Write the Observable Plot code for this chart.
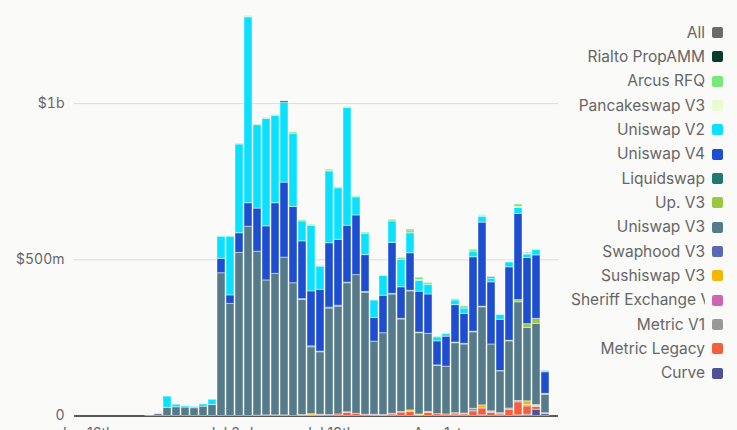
<!DOCTYPE html>
<html><head><meta charset="utf-8">
<script src="https://cdn.jsdelivr.net/npm/d3@7"></script>
<script src="https://cdn.jsdelivr.net/npm/@observablehq/plot@0.6"></script>
<style>
html,body{margin:0;padding:0;background:#fafaf9;overflow:hidden;}
body{width:737px;height:430px;position:relative;font-family:Inter,sans-serif;}
#chart{position:absolute;left:0;top:0;}
#legend{position:absolute;left:571px;top:20.5px;}
.row{height:24.33px;display:flex;align-items:center;}
.lbl{width:134px;overflow:hidden;white-space:nowrap;text-align:right;font-size:15.5px;color:#666;line-height:20px;}
.sw{width:11px;height:11px;border-radius:2px;margin-left:7px;flex:none;}
</style></head>
<body>
<div id="chart"></div>
<div id="legend"></div>
<script>
// Legend order (top of legend = top of stack)
const names = ["All","Rialto PropAMM","Arcus RFQ","Pancakeswap V3","Uniswap V2","Uniswap V4","Liquidswap","Up. V3","Uniswap V3","Swaphood V3","Sushiswap V3","Sheriff Exchange V3","Metric V1","Metric Legacy","Curve"];
const colors = ["#6b6b6b","#073b2b","#77e87a","#eafbd3","#0ae1ff","#1d4ed0","#22786b","#9bc843","#557a89","#5b69b4","#f2b705","#d063b3","#999999","#f65f3e","#4f5295"];

// x tick labels
const tickIdx = [0, 16, 27, 39];
const tickLabels = ["Jun 16th", "Jul 3rd", "Jul 19th", "Aug 1st"];

// daily volumes in $ millions, 52 days
const all      = [0,0,0,0,0,0,0,0,0,0,0,0,0, 0,0,0,0,0,0,0,0,0,0,0,0,0, 0,0,0,0,0,0,0,0,0,0,0,0,0, 0,0,0,0,0,0,0,0,0,0,0,0,0];
const rialto   = [0,0,0,0,0,0,0,0,0,0,0,0,0, 0,0,0,0,0,0,0,0,0,4,0,0,0, 0,1,0,0,0,0,0,0,0,0,2,0,0, 0,0,0,0,0,0,3,0,0,0,1,0,0];
const arcus    = [0,0,0,0,0,0,0,0,0,0,0,0,0, 0,0,1,1,2,3,2,3,2,0,5,4,3, 2,3,3,3,3,4,0,0,5,6,8,8,6, 2,0,4,7,7,3,0,0,0,8,0,0,0];
const pancake  = [0,0,0,0,0,0,0,0,0,0,0,0,0, 0,0,0,0,0,1,0,0,0,0,0,0,0, 0,0,0,0,0,0,3,2,0,0,0,2,0, 0,2,0,0,0,2,1,0,2,3,3,4,1];
const uniV2    = [0,0,0,0,0,0,0,1,1,36,8,4,4, 7,17,71,188,284,595,267,344,280,256,234,64,210, 74,230,165,377,58,68,56,64,69,88,64,35,31, 13,9,15,17,17,19,12,15,16,19,11,18,5];
const uniV4    = [0,0,0,0,0,0,0,0,0,0,0,0,0, 0,0,46,27,63,75,138,173,226,240,244,185,176, 198,206,211,182,191,118,76,120,163,101,120,131,126, 77,96,120,96,238,269,199,164,235,276,212,203,69];
const liquid   = [0,0,0,0,0,0,0,0,0,0,0,0,0, 0,0,0,0,0,0,0,0,0,0,0,0,3, 0,3,3,2,0,0,0,0,0,0,0,0,0, 0,0,0,0,0,0,0,0,0,0,0,0,0];
const upV3     = [0,0,0,0,0,0,0,0,0,0,0,0,0, 0,0,0,0,0,0,0,0,0,0,0,2,0, 2,0,0,0,0,2,0,0,2,2,2,2,0, 1,0,2,2,2,2,0,1,2,7,12,16,3];
const uniV3    = [0,0,0,0,0,0,0,0,6,26,28,27,25, 30,35,457,359,522,606,525,432,453,505,425,369,214, 200,341,345,413,444,391,234,262,382,296,381,260,250, 155,153,224,221,245,314,214,134,215,316,235,260,59];
const swaphood = [0,0,0,0,0,0,0,0,0,0,0,0,0, 0,0,0,0,0,0,1,2,2,2,0,0,0, 0,0,0,0,0,0,0,0,0,0,0,0,0, 0,0,0,0,0,0,0,0,0,0,0,0,0];
const sushi    = [0,0,0,0,0,0,0,0,0,0,0,0,0, 0,0,0,0,0,0,0,0,0,0,0,1,4, 2,0,0,0,0,0,0,0,0,0,5,3,3, 0,0,0,0,0,10,1,4,0,0,12,3,0];
const sheriff  = [0,0,0,0,0,0,0,0,0,0,0,0,0, 0,0,0,0,0,0,0,0,0,0,0,0,0, 0,0,0,2,0,0,2,0,2,2,0,0,0, 0,0,4,0,0,0,0,0,0,0,0,0,0];
const metricV1 = [0,0,0,0,0,0,0,0,0,0,0,0,0, 0,0,0,0,0,0,0,0,0,0,0,0,0, 0,0,0,0,0,0,0,1,0,0,0,0,0, 0,0,0,3,8,0,4,0,4,4,4,3,3];
const legacy   = [0,0,0,0,0,0,0,0,0,0,0,0,0, 0,0,0,0,0,0,0,0,0,0,0,2,2, 2,3,5,10,7,4,2,2,5,11,13,2,10, 6,5,5,5,15,22,10,5,20,42,27,9,0];
const curve    = [0,0,0,0,0,0,0,0,0,0,0,0,0, 0,0,0,0,0,0,0,0,0,0,0,0,0, 0,0,0,0,0,0,0,0,0,0,0,0,0, 0,0,0,0,0,2,0,0,0,2,4,20,6];

const seriesArrays = [all, rialto, arcus, pancake, uniV2, uniV4, liquid, upV3, uniV3, swaphood, sushi, sheriff, metricV1, legacy, curve];
const nDays = uniV3.length;

// long table, bottom of stack first
const rows = [];
for (let s = names.length - 1; s >= 0; s--) {
  const arr = seriesArrays[s];
  for (let i = 0; i < nDays; i++) {
    if (arr[i] > 0) rows.push({day: i, name: names[s], value: arr[i] * 1e6});
  }
}

const fmtY = d => d === 0 ? "0" : d >= 1e9 ? "$" + (d / 1e9) + "b" : "$" + (d / 1e6) + "m";

const chart = Plot.plot({
  width: 737,
  height: 445,
  marginLeft: 74,
  marginRight: 179,
  marginTop: 0,
  marginBottom: 29.5,
  style: {fontFamily: "Inter, sans-serif", background: "transparent", overflow: "visible"},
  x: {type: "band", domain: d3.range(nDays), paddingInner: 0.06, paddingOuter: 0},
  y: {domain: [0, 1.33e9]},
  color: {domain: names, range: colors},
  marks: [
    Plot.gridY([5e8, 1e9], {stroke: "#dcdcdc", strokeOpacity: 1}),
    Plot.ruleY([0], {stroke: "#222", strokeWidth: 1.5}),
    Plot.barY(rows, {x: "day", y: "value", fill: "name", order: null, stroke: "#fff", strokeOpacity: 0.45, strokeWidth: 1}),
    Plot.axisY({ticks: [0, 5e8, 1e9], tickFormat: fmtY, tickSize: 0, tickPadding: 10, fontSize: 14, color: "#666", label: null}),
    Plot.axisX({ticks: tickIdx, tickFormat: i => tickLabels[tickIdx.indexOf(i)], tickSize: 0, tickPadding: 12.5, fontSize: 14, color: "#666", label: null})
  ]
});
document.getElementById("chart").appendChild(chart);

const legend = document.getElementById("legend");
names.forEach((n, k) => {
  const row = document.createElement("div");
  row.className = "row";
  const l = document.createElement("div");
  l.className = "lbl";
  l.textContent = n;
  const sw = document.createElement("div");
  sw.className = "sw";
  sw.style.background = colors[k];
  row.appendChild(l);
  row.appendChild(sw);
  legend.appendChild(row);
});
</script>
</body></html>
